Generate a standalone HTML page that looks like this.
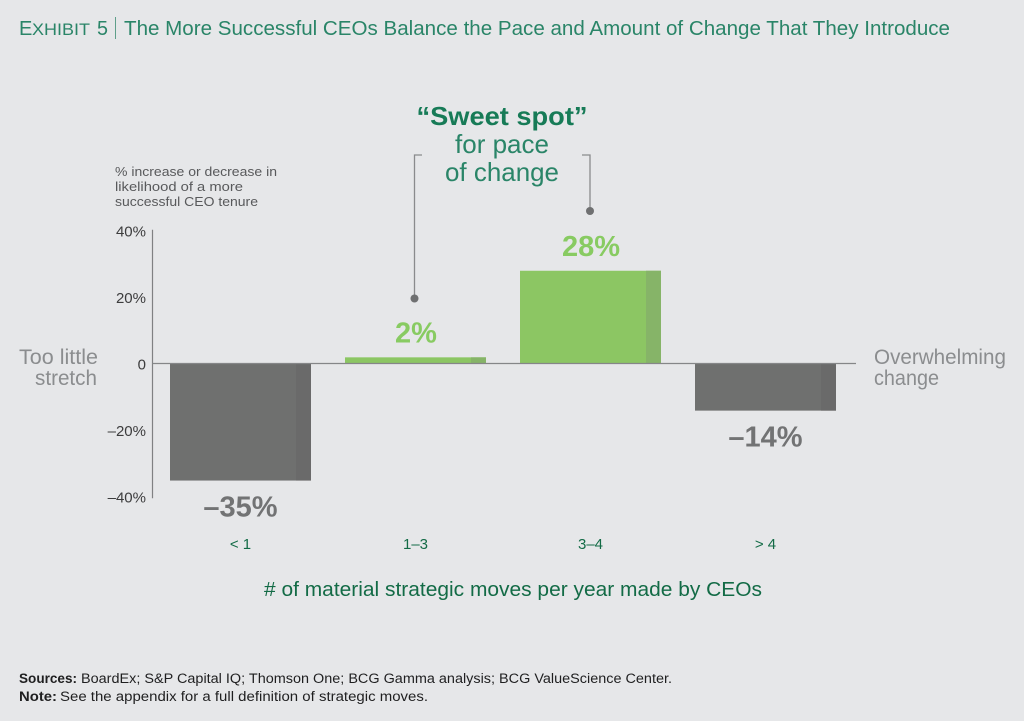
<!DOCTYPE html>
<html lang="en">
<head>
<meta charset="utf-8">
<title>Exhibit 5</title>
<style>
html,body{margin:0;padding:0;background:#e6e7e9;}
svg{display:block;}
text{font-family:"Liberation Sans",sans-serif;}
</style>
</head>
<body>
<svg id="chart" width="1024" height="721" viewBox="0 0 1024 721" xmlns="http://www.w3.org/2000/svg">
  <rect x="0" y="0" width="1024" height="721" fill="#e6e7e9"/>

  <g fill="#2a8568">
    <text x="19" y="35" font-size="20">E</text>
    <text x="32" y="35" font-size="17" textLength="58" lengthAdjust="spacingAndGlyphs">XHIBIT</text>
    <text x="97" y="35" font-size="20" textLength="11" lengthAdjust="spacingAndGlyphs">5</text>
    <rect x="115" y="17" width="1" height="22" fill="#5f9f8a"/>
    <text x="124" y="35" font-size="20" textLength="826" lengthAdjust="spacingAndGlyphs">The More Successful CEOs Balance the Pace and Amount of Change That They Introduce</text>
  </g>

  <g text-anchor="middle">
    <text x="502" y="125" font-size="26" font-weight="bold" fill="#177b57" textLength="171" lengthAdjust="spacingAndGlyphs">“Sweet spot”</text>
    <text x="502" y="153" font-size="26" fill="#2a8568" textLength="94" lengthAdjust="spacingAndGlyphs">for pace</text>
    <text x="502" y="181" font-size="26" fill="#2a8568" textLength="114" lengthAdjust="spacingAndGlyphs">of change</text>
    <path d="M422 155H414.500V298" fill="none" stroke="#8a8b8d" stroke-width="1.300"/>
    <circle cx="414.500" cy="298.500" r="4" fill="#6f7071"/>
    <path d="M582 155H590V211" fill="none" stroke="#8a8b8d" stroke-width="1.300"/>
    <circle cx="590" cy="211" r="4" fill="#6f7071"/>
  </g>

  <g fill="#58595b" font-size="13">
    <text x="115" y="176" textLength="162" lengthAdjust="spacingAndGlyphs">% increase or decrease in</text>
    <text x="115" y="191" textLength="128" lengthAdjust="spacingAndGlyphs">likelihood of a more</text>
    <text x="115" y="206" textLength="143" lengthAdjust="spacingAndGlyphs">successful CEO tenure</text>
  </g>

  <g fill="#8b8d8f" font-size="21">
    <text x="98" y="364" text-anchor="end" textLength="79" lengthAdjust="spacingAndGlyphs">Too little</text>
    <text x="97" y="385" text-anchor="end" textLength="62" lengthAdjust="spacingAndGlyphs">stretch</text>
    <text x="874" y="364" textLength="132" lengthAdjust="spacingAndGlyphs">Overwhelming</text>
    <text x="874" y="385" textLength="65" lengthAdjust="spacingAndGlyphs">change</text>
  </g>

  <g id="plot"></g>

  <text x="513" y="596" text-anchor="middle" font-size="20" fill="#136b46" textLength="498" lengthAdjust="spacingAndGlyphs"># of material strategic moves per year made by CEOs</text>

  <g fill="#1f1f20" font-size="13.500">
    <text x="19" y="683" font-weight="bold" textLength="58" lengthAdjust="spacingAndGlyphs">Sources:</text>
    <text x="81" y="683" textLength="591" lengthAdjust="spacingAndGlyphs">BoardEx; S&amp;P Capital IQ; Thomson One; BCG Gamma analysis; BCG ValueScience Center.</text>
    <text x="19" y="701" font-weight="bold" textLength="38" lengthAdjust="spacingAndGlyphs">Note:</text>
    <text x="60" y="701" textLength="368" lengthAdjust="spacingAndGlyphs">See the appendix for a full definition of strategic moves.</text>
  </g>
</svg>
<script>
const categories = ['< 1', '1–3', '3–4', '> 4'];
const seriesValues = [-35, 2, 28, -14];
const tickValues = [40, 20, 0, -20, -40];
const tickLabels = ['40%', '20%', '0', '–20%', '–40%'];
const valueLabels = ['–35%', '2%', '28%', '–14%'];

const NS = 'http://www.w3.org/2000/svg';
const plot = document.getElementById('plot');
const zeroY = 364;
const pxPerUnit = 3.33;
const firstBarX = 170;
const barStep = 175;
const barWidth = 141;
const shadeWidth = 15;

function yScale(v) { return zeroY - v * pxPerUnit; }
function xScale(i) { return firstBarX + i * barStep; }

function make(tag, attrs, text) {
  const el = document.createElementNS(NS, tag);
  for (const k in attrs) el.setAttribute(k, attrs[k]);
  if (text !== undefined) el.textContent = text;
  plot.appendChild(el);
  return el;
}

seriesValues.forEach(function (v, i) {
  const x = xScale(i);
  const top = Math.min(yScale(v), zeroY);
  const h = Math.abs(yScale(v) - zeroY);
  const pos = v >= 0;
  const bar = make('rect', {x: x, y: top, width: barWidth, height: h, fill: pos ? '#8cc663' : '#6f706f'});
  
  
  const shade = make('rect', {x: x + barWidth - shadeWidth, y: top, width: shadeWidth, height: h, fill: pos ? '#86b468' : '#6a6a6a'});
  
  
  const labelY = pos ? top - 15 : top + h + 36;
  const label = make('text', {x: x + barWidth / 2 + (pos ? 0.5 : 0), y: labelY, 'text-anchor': 'middle', 'font-size': 29, 'font-weight': 'bold', fill: pos ? '#88cb62' : '#727374'}, valueLabels[i]);
  
  
  const cat = make('text', {x: x + barWidth / 2, y: 549, 'text-anchor': 'middle', 'font-size': 15, fill: '#136b46'}, categories[i]);
  
  
});

const yAxis = make('line', {x1: 152.5, x2: 152.5, y1: yScale(40) - 1, y2: yScale(-40) + 1, stroke: '#808183', 'stroke-width': 1.2});



const zeroLine = make('line', {x1: 152.5, x2: 856, y1: zeroY - 0.5, y2: zeroY - 0.5, stroke: '#858688', 'stroke-width': 1.2});



tickValues.forEach(function (t, i) {
  const tick = make('text', {x: 146, y: yScale(t) + 5.5, 'text-anchor': 'end', 'font-size': 15, fill: '#3c3c3d'}, tickLabels[i]);
  
  
});
</script>
</body>
</html>
